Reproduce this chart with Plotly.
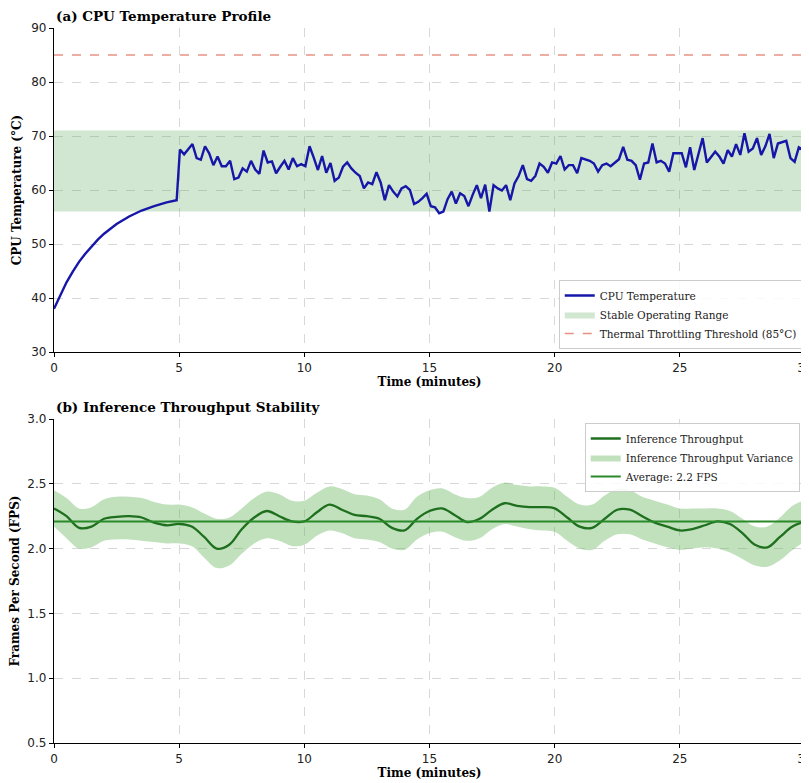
import plotly.graph_objects as go

# ---------------- Data: (a) CPU temperature ----------------
ramp_time = [0.0, 0.25, 0.5, 0.75, 1.0, 1.25, 1.5, 1.75, 2.0, 2.5, 3.0, 3.5, 4.0, 4.5, 4.9]
ramp_temp = [38.0, 40.6, 42.9, 44.9, 46.7, 48.2, 49.6, 50.8, 51.9, 53.7, 55.1, 56.2, 57.0, 57.7, 58.1]

stable_temp = [
    67.5, 66.6, 67.5, 68.5, 65.9, 65.6, 68.1, 66.8, 64.6, 66.2, 64.4, 64.4, 65.4, 62.0, 62.3, 64.0, 63.4, 65.4,
    63.8, 63.0, 67.3, 65.1, 65.3, 63.1, 64.3, 65.4, 63.8, 65.9, 64.4, 64.8, 64.4, 68.1, 66.0, 63.7, 66.3, 63.2,
    65.0, 61.7, 62.3, 64.3, 65.1, 64.0, 63.2, 62.6, 60.3, 61.4, 61.1, 63.3, 61.4, 58.1, 60.9, 59.7, 58.8, 60.3,
    60.7, 60.0, 57.4, 57.8, 58.5, 59.3, 57.0, 56.8, 55.7, 56.0, 58.3, 59.7, 57.5, 59.4, 58.9, 57.0, 59.1, 60.9, 58.5,
    61.0, 56.0, 60.9, 60.3, 59.9, 60.9, 58.1, 61.2, 62.6, 64.6, 62.0, 61.7, 62.6, 64.9, 64.3, 63.2, 65.1, 64.9,
    66.3, 63.8, 64.6, 64.6, 63.1, 65.9, 65.7, 65.4, 64.9, 63.4, 64.6, 64.9, 64.4, 65.1, 65.7, 68.0, 65.6, 65.4, 64.6,
    61.9, 64.9, 65.1, 68.6, 65.1, 65.4, 64.9, 63.4, 66.8, 66.8, 66.8, 64.2, 67.9, 63.7, 66.8, 69.6, 65.1, 66.0,
    67.1, 66.2, 64.9, 67.4, 66.2, 68.5, 66.5, 70.5, 67.1, 67.7, 69.6, 66.5, 68.1, 70.4, 65.9, 68.6, 68.8, 69.1,
    65.9, 65.2, 67.9, 67.4,
]
stable_start, stable_end = 5.03, 29.92
stable_time = [stable_start + i * (stable_end - stable_start) / (len(stable_temp) - 1) for i in range(len(stable_temp))]

cpu_time = ramp_time + stable_time
cpu_temp = ramp_temp + stable_temp

range_low, range_high = 56.0, 71.0
throttle_temp = 85.0
time_span = [0, 30]

# ---------------- Data: (b) Inference throughput ----------------
fps_time = [i * 0.5 for i in range(61)]
fps_value = [
    2.31, 2.25, 2.16, 2.17, 2.23, 2.245, 2.25, 2.24, 2.20, 2.18, 2.19, 2.17, 2.09, 2.00, 2.03, 2.15,
    2.24, 2.29, 2.25, 2.21, 2.21, 2.28, 2.34, 2.30, 2.26, 2.25, 2.23, 2.16, 2.14, 2.23, 2.29, 2.31,
    2.26, 2.205, 2.23, 2.30, 2.35, 2.33, 2.32, 2.32, 2.31, 2.24, 2.17, 2.16, 2.23, 2.30, 2.30, 2.25,
    2.20, 2.17, 2.14, 2.15, 2.18, 2.21, 2.19, 2.12, 2.03, 2.01, 2.09, 2.17, 2.21,
]
fps_upper = [
    2.45, 2.39, 2.31, 2.32, 2.38, 2.40, 2.40, 2.39, 2.36, 2.34, 2.34, 2.32, 2.27, 2.23, 2.24, 2.31,
    2.39, 2.44, 2.42, 2.37, 2.37, 2.43, 2.48, 2.46, 2.42, 2.41, 2.38, 2.31, 2.30, 2.40, 2.45, 2.465,
    2.42, 2.39, 2.40, 2.47, 2.51, 2.49, 2.48, 2.48, 2.47, 2.40, 2.34, 2.34, 2.41, 2.46, 2.45, 2.40,
    2.37, 2.34, 2.31, 2.31, 2.31, 2.31, 2.29, 2.23, 2.17, 2.17, 2.24, 2.33, 2.375,
]
fps_lower = [
    2.17, 2.08, 2.00, 2.01, 2.06, 2.07, 2.07, 2.06, 2.05, 2.04, 2.04, 2.02, 1.93, 1.85, 1.87, 1.96,
    2.04, 2.08, 2.06, 2.02, 2.03, 2.10, 2.14, 2.12, 2.08, 2.07, 2.05, 2.00, 1.99, 2.07, 2.12, 2.13,
    2.09, 2.06, 2.08, 2.15, 2.19, 2.17, 2.15, 2.14, 2.13, 2.06, 2.00, 1.99, 2.06, 2.11, 2.11, 2.07,
    2.04, 2.01, 1.99, 2.00, 2.01, 2.00, 1.97, 1.92, 1.87, 1.86, 1.91, 1.99, 2.055,
]
fps_average = 2.21

x_ticks = [0, 5, 10, 15, 20, 25, 30]
temp_ticks = [30, 40, 50, 60, 70, 80, 90]
fps_ticks = [0.5, 1.0, 1.5, 2.0, 2.5, 3.0]

# ---------------- Figure ----------------
SERIF = "DejaVu Serif"
SANS = "DejaVu Sans"
PAGE_OFF = 8                      # default body margin of the html page
W, H = 809 - PAGE_OFF, 783 - PAGE_OFF
PLOT_L, PLOT_R, PLOT_T, PLOT_B = 54, 805, 28, 743   # page pixels
M_L = PLOT_L - PAGE_OFF
M_R = W - (PLOT_R - PAGE_OFF)
M_T = PLOT_T - PAGE_OFF
M_B = H - (PLOT_B - PAGE_OFF)
PH = H - M_T - M_B


def py(page_y):
    return (PLOT_B - page_y) / PH


fig = go.Figure()

# (a)
fig.add_trace(go.Scatter(
    x=[time_span[0], time_span[1], time_span[1], time_span[0], time_span[0]],
    y=[range_low, range_low, range_high, range_high, range_low],
    fill="toself", fillcolor="rgba(70,160,70,0.25)", line=dict(width=0),
    mode="lines", name="Stable Operating Range", legend="legend", legendrank=2,
    xaxis="x", yaxis="y", hoverinfo="skip"))
fig.add_trace(go.Scatter(
    x=time_span, y=[throttle_temp, throttle_temp], mode="lines",
    line=dict(color="rgba(222,110,90,0.75)", width=1.6, dash="dash"),
    name="Thermal Throttling Threshold (85°C)", legend="legend", legendrank=3,
    xaxis="x", yaxis="y"))
fig.add_trace(go.Scatter(
    x=cpu_time, y=cpu_temp, mode="lines",
    line=dict(color="#1616a8", width=2.4),
    name="CPU Temperature", legend="legend", legendrank=1,
    xaxis="x", yaxis="y"))

# (b)
fig.add_trace(go.Scatter(
    x=fps_time, y=fps_upper, mode="lines", line=dict(width=0, shape="spline"),
    showlegend=False, xaxis="x2", yaxis="y2", hoverinfo="skip"))
fig.add_trace(go.Scatter(
    x=fps_time, y=fps_lower, mode="lines", line=dict(width=0, shape="spline"),
    fill="tonexty", fillcolor="rgba(90,175,80,0.38)",
    name="Inference Throughput Variance", legend="legend2", legendrank=2,
    xaxis="x2", yaxis="y2", hoverinfo="skip"))
fig.add_trace(go.Scatter(
    x=fps_time, y=fps_value, mode="lines",
    line=dict(color="#1e6f1e", width=2.3, shape="spline"),
    name="Inference Throughput", legend="legend2", legendrank=1,
    xaxis="x2", yaxis="y2"))
fig.add_trace(go.Scatter(
    x=time_span, y=[fps_average, fps_average], mode="lines",
    line=dict(color="#2a8a2a", width=2),
    name="Average: 2.2 FPS", legend="legend2", legendrank=3,
    xaxis="x2", yaxis="y2"))

axis_common = dict(
    showline=True, linecolor="black", linewidth=1.3, mirror=False,
    ticks="outside", ticklen=4, tickwidth=1, tickcolor="black",
    showgrid=True, gridcolor="#d8d8d8", griddash="dash", gridwidth=1,
    zeroline=False, tickfont=dict(family=SANS, size=12, color="#222"),
    automargin=False, ticklabeloverflow="allow",
)
title_font = dict(family=SERIF, size=12, color="black")

legend_common = dict(
    bgcolor="rgba(255,255,255,0.85)", bordercolor="#cccccc", borderwidth=1,
    font=dict(family=SERIF, size=10.5, color="#222"), tracegroupgap=0,
    itemwidth=30, traceorder="normal",
)

fig.update_layout(
    width=W, height=H, margin=dict(l=M_L, r=M_R, t=M_T, b=M_B, autoexpand=False),
    paper_bgcolor="white", plot_bgcolor="white",
    xaxis=dict(axis_common, domain=[0, 1], range=[0, 30], tickvals=x_ticks, anchor="y",
               title=dict(text="<b>Time (minutes)</b>", font=title_font, standoff=2)),
    yaxis=dict(axis_common, domain=[py(352), 1], range=[30, 90], tickvals=temp_ticks, anchor="x",
               title=dict(text="<b>CPU Temperature (°C)</b>", font=title_font, standoff=6)),
    xaxis2=dict(axis_common, domain=[0, 1], range=[0, 30], tickvals=x_ticks, anchor="y2",
                title=dict(text="<b>Time (minutes)</b>", font=title_font, standoff=2)),
    yaxis2=dict(axis_common, domain=[0, py(419)], range=[0.5, 3.0], tickvals=fps_ticks,
                tickformat=".1f", anchor="x2",
                title=dict(text="<b>Frames Per Second (FPS)</b>", font=title_font, standoff=6)),
    legend=dict(legend_common, x=0.997, y=py(349), xanchor="right", yanchor="bottom"),
    legend2=dict(legend_common, x=0.993, y=py(423), xanchor="right", yanchor="top"),
    showlegend=True,
    annotations=[
        dict(text="<b>(a) CPU Temperature Profile</b>", x=0, y=py(16), xref="paper", yref="paper",
             xanchor="left", yanchor="middle", showarrow=False,
             font=dict(family=SERIF, size=13.5, color="black")),
        dict(text="<b>(b) Inference Throughput Stability</b>", x=0, y=py(407), xref="paper", yref="paper",
             xanchor="left", yanchor="middle", showarrow=False,
             font=dict(family=SERIF, size=13.5, color="black")),
    ],
)

fig.write_html("out.html")
